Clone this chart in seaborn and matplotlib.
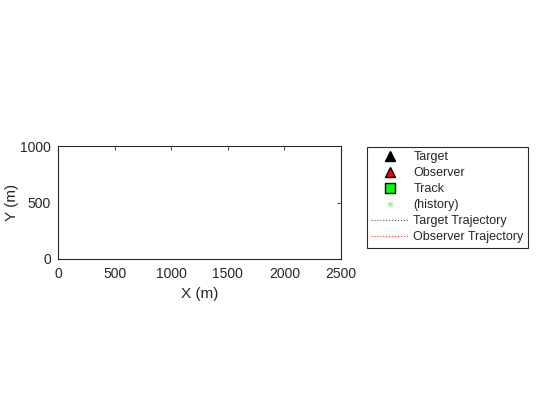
import matplotlib
matplotlib.use("Agg")
import matplotlib.pyplot as plt
import seaborn as sns
import numpy as np

sns.set_style("white")
plt.rcParams['font.family'] = ['Liberation Sans', 'DejaVu Sans']

# Data (no visible tracks in the reference; empty series for legend)
target_x, target_y = [], []
observer_x, observer_y = [], []
track_x, track_y = [], []
hist_x, hist_y = [], []
ttraj_x, ttraj_y = [], []
otraj_x, otraj_y = [], []

xlim = (0, 2500)
ylim = (0, 1000)
xticks = [0, 500, 1000, 1500, 2000, 2500]
yticks = [0, 500, 1000]

fig = plt.figure(figsize=(5.6, 4.2), dpi=100)
ax = fig.add_axes([58/560, 1-259/420, (341-58)/560, (259-146)/420])

ax.plot(target_x, target_y, linestyle='none', marker='^', color='black', markersize=6.5, label='Target')
ax.plot(observer_x, observer_y, linestyle='none', marker='^', markerfacecolor='red', markeredgecolor='black', markersize=6.5, label='Observer')
ax.plot(track_x, track_y, linestyle='none', marker='s', markerfacecolor='#00ff00', markeredgecolor='black', markersize=7.2, label='Track')
ax.plot(hist_x, hist_y, linestyle='none', marker='s', markerfacecolor='#a8e8a8', markeredgecolor='#c8f0c8', markersize=3.5, label='(history)')
ax.plot(ttraj_x, ttraj_y, linestyle=':', color='#555555', linewidth=0.8, label='Target Trajectory')
ax.plot(otraj_x, otraj_y, linestyle=':', color='#ff3030', linewidth=0.8, label='Observer Trajectory')

ax.set_xlim(*xlim)
ax.set_ylim(*ylim)
ax.set_xticks(xticks)
ax.set_yticks(yticks)
ax.set_xlabel('X (m)', fontsize=11, color='#262626', labelpad=4)
ax.set_ylabel('Y (m)', fontsize=11, color='#262626', labelpad=0.5)
ax.tick_params(direction='in', length=3, width=0.6, top=True, right=True,
               labelsize=10, colors='#262626')
ax.tick_params(axis='x', pad=6)
ax.tick_params(axis='y', pad=5)
for s in ax.spines.values():
    s.set_visible(True)
    s.set_color('#262626')
    s.set_linewidth(0.8)

leg = fig.legend(loc='upper left', bbox_to_anchor=(367/560, 1-147/420), borderaxespad=0,
                 fontsize=9, frameon=True, fancybox=False, edgecolor='#262626', framealpha=1,
                 handlelength=3.0, borderpad=0.35, labelspacing=0.32, handletextpad=0.35)
leg.get_frame().set_linewidth(0.8)

fig.savefig('out.png', dpi=100)
